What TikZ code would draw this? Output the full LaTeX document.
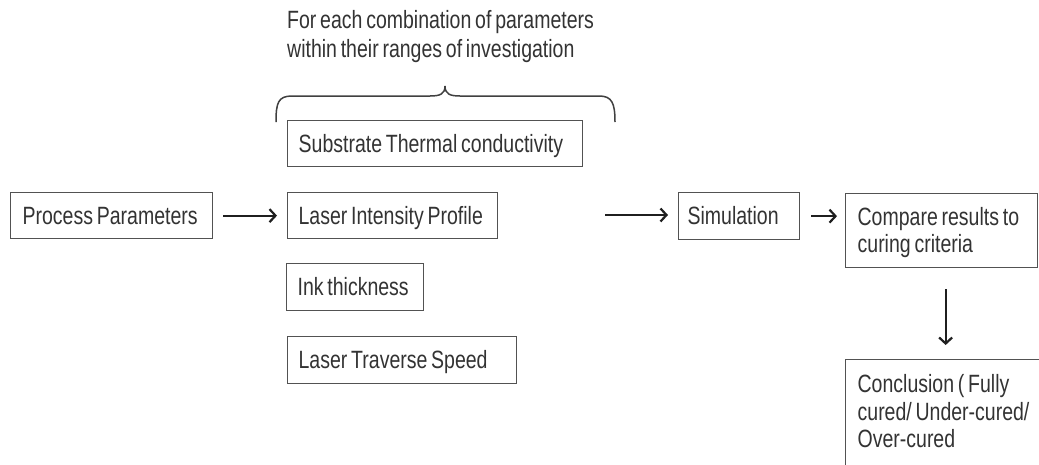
\documentclass[tikz,border=0pt]{standalone}
\usepackage{fontspec}
\setmainfont{Liberation Sans}[FakeStretch=0.78,WordSpace=0.7]
\usetikzlibrary{arrows.meta}
\newcommand\bxt[2]{\makebox[#1][l]{\begin{tabular}{@{}l@{}}\rule{0pt}{25pt}#2\end{tabular}}}
\begin{document}
\begin{tikzpicture}[x=1pt,y=-1pt,
  txt/.style={font=\fontsize{25}{27.5}\selectfont, text=black!80},
  box/.style={txt, draw=black!68, line width=1.3pt, anchor=north west, inner ysep=0pt},
  arr/.style={line width=2pt, draw=black!88, -{Straight Barb[length=6pt,width=13pt,line width=2.2pt]}},
  brace/.style={line width=1.5pt, draw=black!75}]
\useasboundingbox (0,0) rectangle (1039,464);
\fill[white] (0,0) rectangle (1039,464);
\clip (0,0) rectangle (1039,464);

\node[txt, anchor=north west, align=left, inner sep=0pt, font=\fontsize{25}{29}\selectfont] (note) at (287,10)
  {For each combination of parameters\\within their ranges of investigation};
\draw[brace] (276,122) .. controls (276,103) and (278,96) .. (292,96) -- (430,96)
  .. controls (440,96) and (445,94) .. (445,86)
  .. controls (445,94) and (450,96) .. (460,96) -- (599,96)
  .. controls (612,96) and (615,103) .. (615,122);

\node[box, inner xsep=12pt, minimum height=46pt] (pp) at (10,192) {\bxt{178pt}{Process Parameters}};
\node[box, inner xsep=11pt, minimum height=46pt] (stc) at (287,120) {\bxt{273pt}{Substrate Thermal conductivity}};
\node[box, inner xsep=11pt, minimum height=46pt] (lip) at (287,192) {\bxt{188pt}{Laser Intensity Profile}};
\node[box, inner xsep=11pt, minimum height=47pt] (ink) at (286,263) {\bxt{115pt}{Ink thickness}};
\node[box, inner xsep=11pt, minimum height=47pt] (lts) at (287,336) {\bxt{207pt}{Laser Traverse Speed}};
\node[box, inner xsep=9pt, minimum height=47pt] (sim) at (678,192) {\bxt{103pt}{Simulation}};
\node[box, inner xsep=12pt, minimum height=74pt] (cmp) at (845,193) {\bxt{168pt}{Compare results to\\curing criteria}};
\node[box, inner xsep=12pt, inner ysep=8pt] (con) at (845,359)
  {\bxt{176pt}{Conclusion ( Fully\\cured/ Under-cured/\\Over-cured\rule[-25pt]{0pt}{25pt}}};

\coordinate (grp) at (605,215);
\draw[arr, shorten <=10pt, shorten >=10pt] (pp.east) -- (lip.west);
\draw[arr, shorten >=10pt] (grp) -- (grp -| sim.west);
\draw[arr, shorten <=11pt, shorten >=8pt] (sim.east) -- (sim.east -| cmp.west);
\draw[arr, shorten <=21pt, shorten >=14pt] ([xshift=4pt]cmp.south) -- ([xshift=4pt]cmp.south |- con.north);
\end{tikzpicture}
\end{document}
